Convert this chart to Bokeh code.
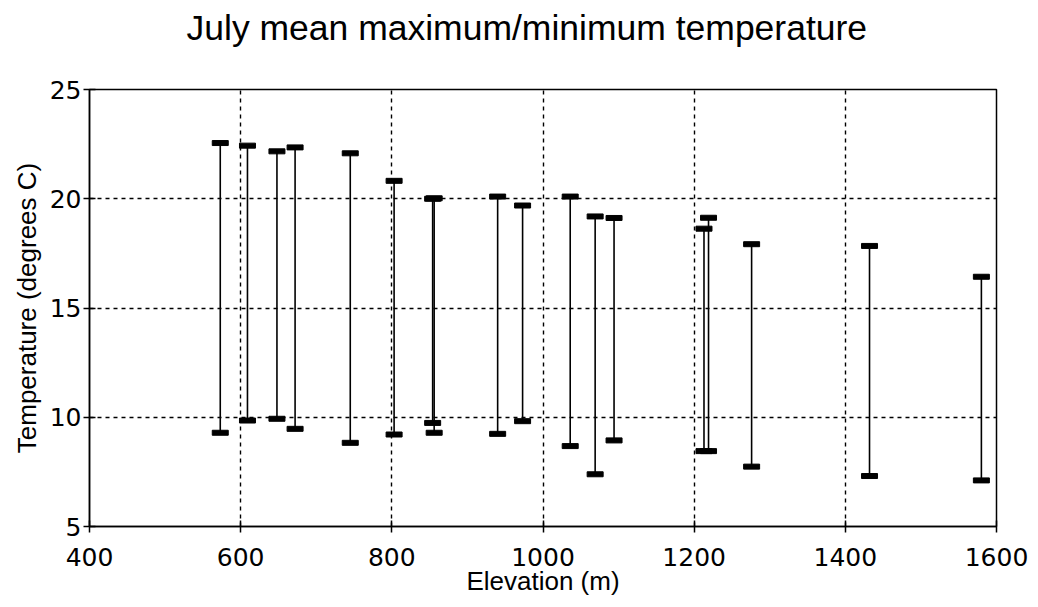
from bokeh.plotting import figure
from bokeh.models import ColumnDataSource, FixedTicker, Title
from bokeh.embed import file_html
from bokeh.resources import INLINE

# Data
elevation = [573, 609, 648, 672, 745, 803, 854, 856, 940, 973, 1036, 1069, 1094, 1213, 1219, 1276, 1432, 1580]
t_max = [22.55, 22.43, 22.17, 22.35, 22.08, 20.82, 20.0, 20.02, 20.1, 19.69, 20.1, 19.19, 19.12, 18.63, 19.13, 17.92, 17.84, 16.43]
t_min = [9.29, 9.85, 9.93, 9.47, 8.83, 9.21, 9.74, 9.29, 9.24, 9.82, 8.68, 7.39, 8.94, 8.45, 8.45, 7.74, 7.31, 7.11]
x_ticks = [400, 600, 800, 1000, 1200, 1400, 1600]
y_ticks = [5, 10, 15, 20, 25]
title_text = "July mean maximum/minimum temperature"

FONT = "Liberation Sans"
TICK_FONT = "DejaVu Sans"

src = ColumnDataSource(dict(x=elevation, hi=t_max, lo=t_min))

p = figure(width=1030, height=598, output_backend="svg", toolbar_location=None,
           x_range=(400, 1600), y_range=(5, 25),
           min_border_left=89, min_border_right=34, min_border_top=89, min_border_bottom=71,
           title=title_text)

p.title.text_font = FONT
p.title.text_font_size = "35.5px"
p.title.text_font_style = "normal"
p.title.align = "left"
p.title.offset = 97
p.title.standoff = 0
p.title.text_color = "black"

# invisible spacer between the title and the frame
spacer = Title(text=" ", text_font_size="20px", standoff=18, text_color="white")
p.add_layout(spacer, "above")

p.outline_line_color = "black"
p.outline_line_width = 1.5
p.background_fill_color = "white"
p.border_fill_color = "white"

p.segment(x0="x", y0="lo", x1="x", y1="hi", source=src, line_color="black", line_width=1.6)
p.rect(x="x", y="hi", width=16, height=5, width_units="screen", height_units="screen",
       source=src, fill_color="black", line_color="black")
p.rect(x="x", y="lo", width=16, height=5, width_units="screen", height_units="screen",
       source=src, fill_color="black", line_color="black")

p.xaxis.ticker = FixedTicker(ticks=x_ticks)
p.yaxis.ticker = FixedTicker(ticks=y_ticks)
p.xaxis.axis_label = "Elevation (m)"
p.yaxis.axis_label = "Temperature (degrees C)"

for ax in (p.xaxis, p.yaxis):
    ax.axis_label_text_font = FONT
    ax.axis_label_text_font_size = "26px"
    ax.axis_label_text_font_style = "normal"
    ax.axis_label_text_color = "black"
    ax.major_label_text_font = TICK_FONT
    ax.major_label_text_font_size = "25px"
    ax.major_label_text_color = "black"
    ax.axis_line_color = "black"
    ax.axis_line_width = 1.5
    ax.major_tick_line_color = "black"
    ax.major_tick_line_width = 1.5
    ax.major_tick_in = 6
    ax.major_tick_out = 6
    ax.minor_tick_line_color = None

p.xaxis.major_label_standoff = 15
p.yaxis.major_label_standoff = 2
p.xaxis.axis_label_standoff = -3
p.yaxis.axis_label_standoff = 5

p.xgrid.ticker = FixedTicker(ticks=[600, 800, 1000, 1200, 1400])
p.ygrid.ticker = FixedTicker(ticks=[10, 15, 20])
for g in (p.xgrid, p.ygrid):
    g.grid_line_color = "black"
    g.grid_line_width = 1.4
    g.grid_line_dash = "4 4"

open("out.html", "w").write(file_html(p, INLINE))
